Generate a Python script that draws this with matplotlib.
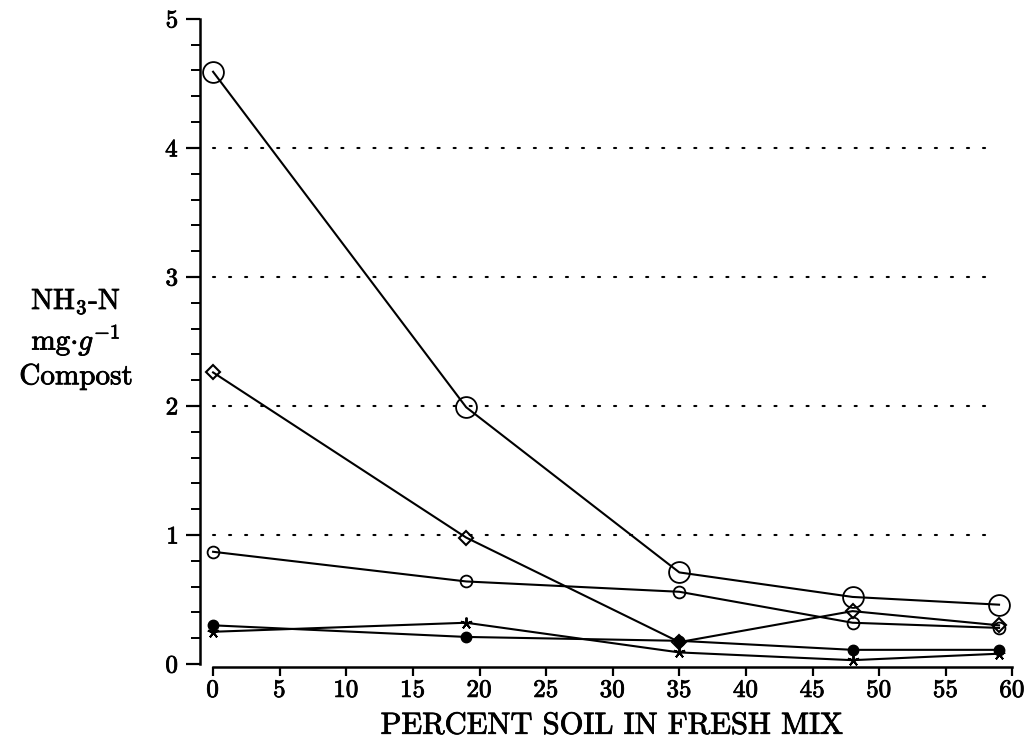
import matplotlib
matplotlib.use("Agg")
import matplotlib.pyplot as plt
import matplotlib.patheffects as pe

# NH3-N content of compost vs. share of soil in the fresh mix
soil_pct = [0, 19, 35, 48, 59]
nh3_big_circle = [4.59, 1.99, 0.71, 0.52, 0.46]
nh3_diamond = [2.26, 0.98, 0.17, 0.41, 0.30]
nh3_small_circle = [0.87, 0.64, 0.56, 0.32, 0.28]
nh3_filled = [0.30, 0.21, 0.18, 0.11, 0.11]
nh3_star = [0.25, 0.32, 0.09, 0.03, 0.08]

grid_levels = [1, 2, 3, 4]
x_ticks = list(range(0, 61, 5))
y_ticks = [0, 1, 2, 3, 4, 5]

plt.rcParams['font.family'] = ['cmr10', 'DejaVu Serif']
plt.rcParams['mathtext.fontset'] = 'cm'
plt.rcParams['axes.unicode_minus'] = False
plt.rcParams['axes.formatter.use_mathtext'] = True

# slightly heavier glyphs, like the printed original
heavy = [pe.withStroke(linewidth=0.6, foreground='k')]

fig = plt.figure(figsize=(10.35, 7.48), dpi=100)
ax = fig.add_axes([0.193, 0.1088, 0.798, 0.866])

# dotted reference lines
for lev in grid_levels:
    ax.plot([0, 58.4], [lev, lev], color='k', lw=1.5,
            linestyle=(0, (1, 6.7)), dash_capstyle='round')

lw = 1.5
ax.plot(soil_pct, nh3_big_circle, color='k', lw=lw, marker='o', ms=15,
        mfc='none', mec='k', mew=1.3, clip_on=False)
ax.plot(soil_pct, nh3_diamond, color='k', lw=lw, marker='D', ms=7.5,
        mfc='none', mec='k', mew=1.5, clip_on=False)
ax.plot(soil_pct, nh3_small_circle, color='k', lw=lw, marker='o', ms=8.5,
        mfc='none', mec='k', mew=1.3, clip_on=False)
ax.plot(soil_pct, nh3_filled, color='k', lw=lw, marker='o', ms=7.5,
        mfc='k', mec='k', clip_on=False)
ax.plot(soil_pct, nh3_star, color='k', lw=lw, marker=(5, 2, 0), ms=8.5,
        mec='k', mew=1.4, clip_on=False)

ax.set_xlim(-1, 61)
ax.set_ylim(-0.02, 5)

for side in ['top', 'right']:
    ax.spines[side].set_visible(False)
ax.spines['left'].set_bounds(0, 5)
ax.spines['bottom'].set_bounds(0, 60)
ax.spines['left'].set_linewidth(1.8)
ax.spines['bottom'].set_linewidth(1.8)

ax.set_xticks(x_ticks)
ax.set_yticks(y_ticks)
ax.set_yticks([v / 5 for v in range(26)], minor=True)
ax.tick_params(axis='y', which='major', direction='out', length=10,
               width=1.6, pad=5, labelsize=18)
ax.tick_params(axis='y', which='minor', direction='out', length=6.5,
               width=1.4)
ax.tick_params(axis='x', which='major', direction='out', length=6.5,
               width=1.6, pad=3, labelsize=18)
for lab in ax.get_xticklabels() + ax.get_yticklabels():
    lab.set_path_effects(heavy)

fig.text(612 / 1035, 1 - 726 / 748, 'PERCENT SOIL IN FRESH MIX',
         ha='center', va='center', fontsize=22, path_effects=heavy)

fig.text(76 / 1035, 1 - 302 / 748, r'NH$_3$-N', ha='center', va='center',
         fontsize=21, path_effects=heavy)
fig.text(76 / 1035, 1 - 340 / 748, r'mg$\cdot g^{-1}$', ha='center',
         va='center', fontsize=21, path_effects=heavy)
fig.text(76 / 1035, 1 - 377 / 748, 'Compost', ha='center', va='center',
         fontsize=21, path_effects=heavy)

fig.savefig('out.png', dpi=100)
